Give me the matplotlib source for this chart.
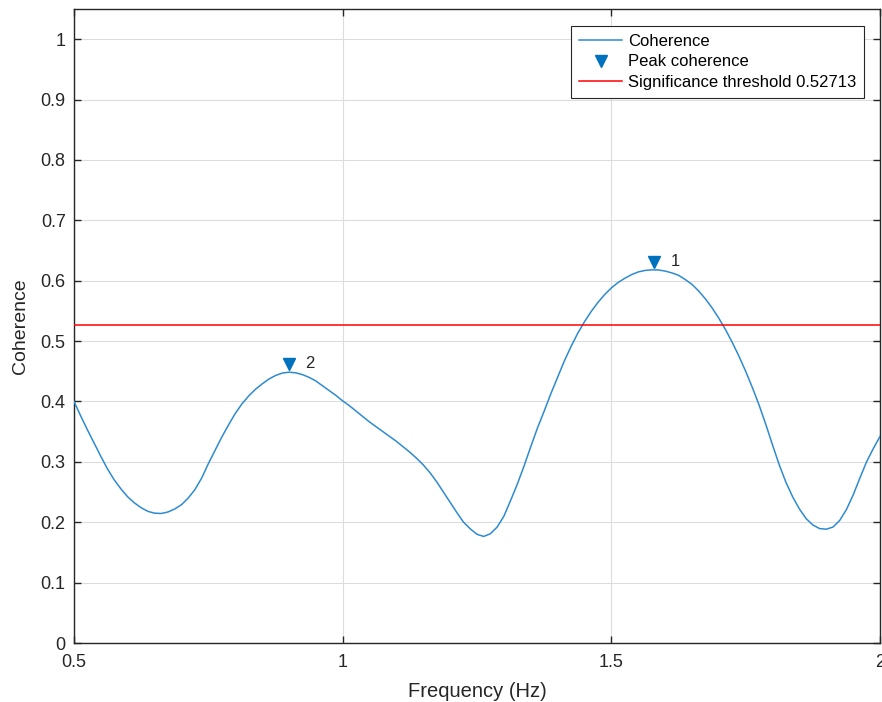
import matplotlib
matplotlib.use("Agg")
import matplotlib.pyplot as plt
import matplotlib.transforms as mtransforms

plt.rcParams['font.family'] = ['Liberation Sans', 'DejaVu Sans']

freq = [0.5000, 0.5125, 0.5250, 0.5375, 0.5500, 0.5625, 0.5750, 0.5875, 0.6000, 0.6125,
        0.6250, 0.6375, 0.6500, 0.6625, 0.6750, 0.6875, 0.7000, 0.7125, 0.7250, 0.7375,
        0.7500, 0.7625, 0.7750, 0.7875, 0.8000, 0.8125, 0.8250, 0.8375, 0.8500, 0.8625,
        0.8750, 0.8875, 0.9000, 0.9125, 0.9250, 0.9375, 0.9500, 0.9625, 0.9750, 0.9875,
        1.0000, 1.0125, 1.0250, 1.0375, 1.0500, 1.0625, 1.0750, 1.0875, 1.1000, 1.1125,
        1.1250, 1.1375, 1.1500, 1.1625, 1.1750, 1.1875, 1.2000, 1.2125, 1.2250, 1.2375,
        1.2500, 1.2625, 1.2750, 1.2875, 1.3000, 1.3125, 1.3250, 1.3375, 1.3500, 1.3625,
        1.3750, 1.3875, 1.4000, 1.4125, 1.4250, 1.4375, 1.4500, 1.4625, 1.4750, 1.4875,
        1.5000, 1.5125, 1.5250, 1.5375, 1.5500, 1.5625, 1.5750, 1.5875, 1.6000, 1.6125,
        1.6250, 1.6375, 1.6500, 1.6625, 1.6750, 1.6875, 1.7000, 1.7125, 1.7250, 1.7375,
        1.7500, 1.7625, 1.7750, 1.7875, 1.8000, 1.8125, 1.8250, 1.8375, 1.8500, 1.8625,
        1.8750, 1.8875, 1.9000, 1.9125, 1.9250, 1.9375, 1.9500, 1.9625, 1.9750, 1.9875,
        2.0000]
coherence = [0.400, 0.376, 0.353, 0.331, 0.309, 0.288, 0.270, 0.255, 0.242, 0.232,
             0.224, 0.218, 0.2150, 0.2145, 0.217, 0.222, 0.229, 0.240, 0.254, 0.273,
             0.297, 0.319, 0.341, 0.361, 0.380, 0.396, 0.409, 0.420, 0.429, 0.437,
             0.443, 0.4470, 0.4485, 0.4475, 0.4445, 0.440, 0.434, 0.426, 0.418, 0.410,
             0.401, 0.393, 0.384, 0.375, 0.366, 0.358, 0.350, 0.342, 0.334, 0.325,
             0.316, 0.306, 0.295, 0.282, 0.267, 0.250, 0.233, 0.216, 0.200, 0.189,
             0.180, 0.1765, 0.181, 0.192, 0.210, 0.236, 0.263, 0.293, 0.325, 0.356,
             0.384, 0.413, 0.440, 0.467, 0.491, 0.513, 0.532, 0.549, 0.564, 0.577,
             0.588, 0.597, 0.604, 0.610, 0.6145, 0.617, 0.6180, 0.6178, 0.616, 0.6130,
             0.609, 0.602, 0.594, 0.583, 0.570, 0.555, 0.538, 0.519, 0.498, 0.475,
             0.450, 0.423, 0.394, 0.362, 0.328, 0.295, 0.266, 0.242, 0.222, 0.206,
             0.1955, 0.1895, 0.1885, 0.192, 0.203, 0.221, 0.245, 0.273, 0.300, 0.322,
             0.342]

peak_freq = [1.580, 0.900]
peak_coh = [0.6180, 0.4485]
peak_labels = ["1", "2"]
threshold = 0.52713

xticks = [0.5, 1.0, 1.5, 2.0]
xtick_labels = ["0.5", "1", "1.5", "2"]
yticks = [0.0, 0.1, 0.2, 0.3, 0.4, 0.5, 0.6, 0.7, 0.8, 0.9, 1.0]
ytick_labels = ["0", "0.1", "0.2", "0.3", "0.4", "0.5", "0.6", "0.7", "0.8", "0.9", "1"]

fig = plt.figure(figsize=(8.82, 7.02), dpi=100)
ax = fig.add_axes([74/882, 1 - 643/702, (880 - 74)/882, (643 - 9)/702])

dark = '#262626'
ax.plot(freq, coherence, color='#2E8BD0', lw=1.1, label='Coherence', zorder=3)

mk_trans = mtransforms.offset_copy(ax.transData, fig=fig, x=0, y=6, units='points')
ax.plot(peak_freq, peak_coh, linestyle='none', marker='v', color='#0072BD',
        markersize=8, transform=mk_trans, label='Peak coherence', zorder=4)
txt_trans = mtransforms.offset_copy(ax.transData, fig=fig, x=12, y=6, units='points')
for xf, yc, lab in zip(peak_freq, peak_coh, peak_labels):
    ax.text(xf, yc, lab, transform=txt_trans, fontsize=12, color=dark,
            ha='left', va='center')

ax.axhline(threshold, color='#FF0000', lw=1.1,
           label='Significance threshold %.5f' % threshold, zorder=3)

ax.set_xlim(0.5, 2.0)
ax.set_ylim(0, 1.05)
ax.set_xticks(xticks)
ax.set_xticklabels(xtick_labels)
ax.set_yticks(yticks)
ax.set_yticklabels(ytick_labels)
ax.grid(True, color='#DDDDDD', lw=0.8, zorder=0)
ax.set_axisbelow(True)
ax.tick_params(direction='in', length=5, width=1, colors=dark, labelsize=13,
               top=True, right=True)
ax.tick_params(axis='x', pad=8)
ax.tick_params(axis='y', pad=6)
for s in ax.spines.values():
    s.set_color(dark)
    s.set_linewidth(1.0)

ax.set_xlabel('Frequency (Hz)', fontsize=14.5, color=dark, labelpad=8)
ax.set_ylabel('Coherence', fontsize=14, color=dark, labelpad=8)

leg = ax.legend(loc='upper right', bbox_to_anchor=(0.980, 0.973), fontsize=12,
                frameon=True, fancybox=False, edgecolor=dark, framealpha=1,
                borderpad=0.45, labelspacing=0.35, handlelength=2.6,
                handletextpad=0.35, borderaxespad=0)
leg.get_frame().set_linewidth(0.8)

fig.savefig('out.png', dpi=100)
